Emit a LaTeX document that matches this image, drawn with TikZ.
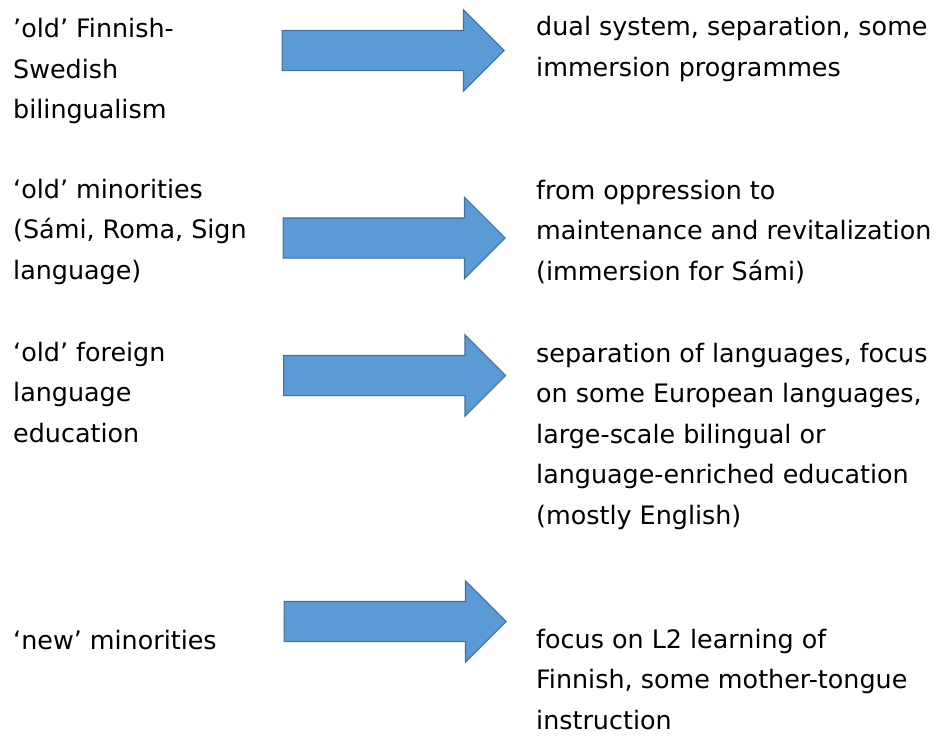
\documentclass[tikz,border=0pt]{standalone}
\usepackage{fontspec}
\setmainfont{DejaVu Sans}
\usetikzlibrary{shapes.arrows}
\definecolor{arrowfill}{HTML}{5B9BD5}
\definecolor{arrowedge}{HTML}{41719C}
\tikzset{
  blockarrow/.style={single arrow, draw=arrowedge, fill=arrowfill, line width=1.2pt,
    inner xsep=0pt, inner ysep=19.5pt, minimum height=222pt,
    single arrow head extend=20.5pt, single arrow tip angle=90, anchor=west},
  label/.style={anchor=base west, inner sep=0pt, align=left,
    font=\fontsize{25.4pt}{40.5pt}\selectfont, text=black}
}
\begin{document}
\begin{tikzpicture}[x=1pt,y=-1pt]
\fill[white] (0,0) rectangle (938,736);
\useasboundingbox (0,0) rectangle (938,736);
% left column (anchor = baseline of the last line)
\node[label] (l1) at (13,118.5) {’old’ Finnish-\\Swedish\\bilingualism};
\node[label] (l2) at (13,279) {‘old’ minorities\\(Sámi, Roma, Sign\\language)};
\node[label] (l3) at (13,442) {‘old’ foreign\\language\\education};
\node[label] (l4) at (13,649) {‘new’ minorities};
% arrows
\node[blockarrow] (a1) at (281.5,50.5) {};
\node[blockarrow] (a2) at (282.5,238) {};
\node[blockarrow] (a3) at (283,375.5) {};
\node[blockarrow] (a4) at (283.5,621.5) {};
% right column
\node[label] (r1) at (536,76) {dual system, separation, some\\immersion programmes};
\node[label] (r2) at (536,280) {from oppression to\\maintenance and revitalization\\(immersion for Sámi)};
\node[label] (r3) at (536,524) {separation of languages, focus\\on some European languages,\\large-scale bilingual or\\language-enriched education\\(mostly English)};
\node[label] (r4) at (536,729) {focus on L2 learning of\\Finnish, some mother-tongue\\instruction};
\end{tikzpicture}
\end{document}
